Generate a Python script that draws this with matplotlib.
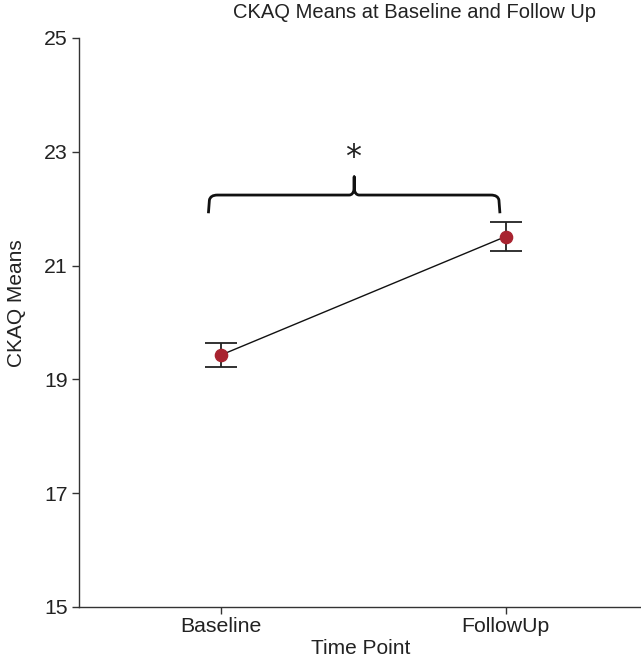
import matplotlib
matplotlib.use("Agg")
import matplotlib.pyplot as plt
from matplotlib.path import Path
from matplotlib.patches import PathPatch

plt.rcParams['font.family'] = ['Liberation Sans', 'DejaVu Sans']

# Data
time_points = ["Baseline", "FollowUp"]
means = [19.43, 21.51]
errors = [0.21, 0.26]
y_ticks = [15, 17, 19, 21, 23, 25]

title = "CKAQ Means at Baseline and Follow Up"
xlabel = "Time Point"
ylabel = "CKAQ Means"

text_color = "#222222"
dot_color = "#A8232F"

fig = plt.figure(figsize=(6.41, 6.60), dpi=100)
ax = fig.add_axes([79/641, 53/660, 1 - 79/641, (607-38)/660])

x = list(range(len(time_points)))
ax.plot(x, means, color="#111111", lw=1.0, zorder=2)
ax.errorbar(x, means, yerr=errors, fmt="none", ecolor="#222222",
            elinewidth=1.3, capsize=11.5, capthick=1.3, zorder=3)
ax.plot(x, means, "o", color=dot_color, markersize=8.8, zorder=4)

ax.set_xlim(-0.5, 1.476)
ax.set_ylim(15, 25)
ax.set_yticks(y_ticks)
ax.set_xticks(x)
ax.set_xticklabels(time_points)

for s in ["top", "right"]:
    ax.spines[s].set_visible(False)
for s in ["left", "bottom"]:
    ax.spines[s].set_color("#333333")
    ax.spines[s].set_linewidth(1.0)
ax.tick_params(axis="both", length=5, width=1.0, color="#333333",
               labelsize=15.3, labelcolor=text_color)
ax.tick_params(axis="y", pad=3)
ax.tick_params(axis="x", pad=2)

# Significance brace (annotation)
bl, br = -0.045, 0.98          # brace x extent
by, bend, btip = 22.24, 21.92, 22.56
bm = (bl + br) / 2
px = 1 / 284.0   # one pixel in x data units
py = 1 / 56.9    # one pixel in y data units
verts = [
    (bl, bend),
    (bl + 1 * px, by - 5 * py),
    (bl + 2 * px, by), (bl + 9 * px, by),
    (bm - 5 * px, by),
    (bm - 1 * px, by), (bm, by + 6 * py),
    (bm, btip),
    (bm, by + 6 * py),
    (bm + 1 * px, by), (bm + 5 * px, by),
    (br - 9 * px, by),
    (br - 2 * px, by), (br - 1 * px, by - 5 * py),
    (br, bend),
]
codes = [Path.MOVETO, Path.LINETO, Path.CURVE3, Path.CURVE3, Path.LINETO,
         Path.CURVE3, Path.CURVE3, Path.LINETO, Path.LINETO,
         Path.CURVE3, Path.CURVE3, Path.LINETO, Path.CURVE3, Path.CURVE3,
         Path.LINETO]
ax.add_patch(PathPatch(Path(verts, codes), facecolor="none",
                       edgecolor="#111111", lw=2.0, capstyle="butt",
                       joinstyle="round", clip_on=False))
ax.text(bm - 1 * px, 22.9, "*", ha="center", va="center", fontsize=23,
        family="DejaVu Sans", color="#222222")

fig.text(415/641, 1 - 13/660, title, ha="center", va="center",
         fontsize=14.5, color=text_color)
fig.text(361/641, 1 - 649/660, xlabel, ha="center", va="center",
         fontsize=15, color=text_color)
fig.text(17/641, 1 - 303/660, ylabel, ha="center", va="center",
         rotation=90, fontsize=15, color=text_color)

fig.savefig("out.png", dpi=100)
